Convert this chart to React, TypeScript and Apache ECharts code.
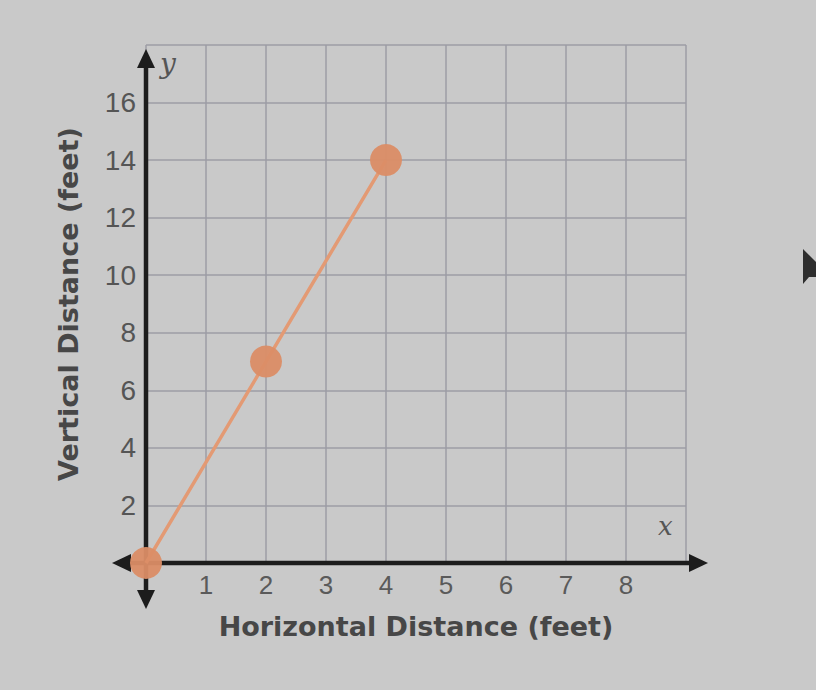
import React, { useEffect, useRef } from 'react';
import * as echarts from 'echarts';

const xValues = [0, 2, 4];
const yValues = [0, 7, 14];
const xRange = [0, 9];
const yRange = [0, 18];
const xLabelRange = [1, 8];
const yLabelRange = [2, 16];
const xTitle = 'Horizontal Distance (feet)';
const yTitle = 'Vertical Distance (feet)';

export default function App() {
  const ref = useRef<HTMLDivElement>(null);
  useEffect(() => {
    const chart = echarts.init(ref.current!, null, { renderer: 'svg' });
    const gridColor = '#9d9da5';
    const font = '"Liberation Sans", Arial, sans-serif';
    const titleFont = '"DejaVu Sans", sans-serif';
    chart.setOption({
      animation: false,
      backgroundColor: '#c9c9c9',
      grid: { left: 146, right: 130, top: 45, bottom: 127 },
      xAxis: {
        type: 'value',
        min: xRange[0],
        max: xRange[1],
        interval: 1,
        axisLine: { show: false },
        axisTick: { show: false },
        splitLine: { show: true, lineStyle: { color: gridColor, width: 1.5 } },
        axisLabel: {
          margin: 9,
          fontSize: 26,
          color: '#5a5a5a',
          fontFamily: font,
          formatter: (v: number) => (v >= xLabelRange[0] && v <= xLabelRange[1] ? String(v) : ''),
        },
        name: xTitle,
        nameLocation: 'middle',
        nameGap: 50,
        nameTextStyle: { fontSize: 27, fontWeight: 'bold', color: '#474747', fontFamily: titleFont },
      },
      yAxis: {
        type: 'value',
        min: yRange[0],
        max: yRange[1],
        interval: 2,
        axisLine: { show: false },
        axisTick: { show: false },
        splitLine: { show: true, lineStyle: { color: gridColor, width: 1.5 } },
        axisLabel: {
          margin: 10,
          fontSize: 28,
          color: '#555555',
          fontFamily: font,
          formatter: (v: number) => (v >= yLabelRange[0] && v <= yLabelRange[1] ? String(v) : ''),
        },
        name: yTitle,
        nameLocation: 'middle',
        nameGap: 64,
        nameTextStyle: { fontSize: 27, fontWeight: 'bold', color: '#474747', fontFamily: titleFont },
      },
      series: [
        {
          type: 'line',
          z: 5,
          data: xValues.map((x, i) => [x, yValues[i]]),
          symbol: 'circle',
          symbolSize: 32,
          lineStyle: { color: '#e39a74', width: 3.5 },
          itemStyle: { color: '#db8d66', opacity: 0.95 },
        },
      ],
    });
    const o = chart.convertToPixel({ gridIndex: 0 }, [xRange[0], yRange[0]]) as number[];
    const tr = chart.convertToPixel({ gridIndex: 0 }, [xRange[1], yRange[1]]) as number[];
    const axisColor = '#1c1c1c';
    const ox = o[0];
    const oy = o[1];
    const xl = ox - 34;
    const xr = tr[0] + 22;
    const yt = tr[1] + 4;
    const yb = oy + 46;
    const al = 19;
    const aw = 9;
    chart.setOption({
      graphic: [
        { type: 'line', z: 1, shape: { x1: xl + al - 2, y1: oy, x2: xr - al + 2, y2: oy }, style: { stroke: axisColor, lineWidth: 4.5 } },
        { type: 'line', z: 1, shape: { x1: ox, y1: yt + al - 2, x2: ox, y2: yb - al + 2 }, style: { stroke: axisColor, lineWidth: 4.5 } },
        { type: 'polygon', z: 1, shape: { points: [[xr, oy], [xr - al, oy - aw], [xr - al, oy + aw]] }, style: { fill: axisColor } },
        { type: 'polygon', z: 1, shape: { points: [[xl, oy], [xl + al, oy - aw], [xl + al, oy + aw]] }, style: { fill: axisColor } },
        { type: 'polygon', z: 1, shape: { points: [[ox, yt], [ox - aw, yt + al], [ox + aw, yt + al]] }, style: { fill: axisColor } },
        { type: 'polygon', z: 1, shape: { points: [[ox, yb], [ox - aw, yb - al], [ox + aw, yb - al]] }, style: { fill: axisColor } },
        { type: 'text', z: 1, x: ox + 14, y: yt, style: { text: 'y', font: 'italic 28px "DejaVu Serif", serif', fill: '#555555' } },
        { type: 'text', z: 1, x: tr[0] - 28, y: oy - 50, style: { text: 'x', font: 'italic 26px "DejaVu Serif", serif', fill: '#555555' } },
        { type: 'polygon', z: 1, shape: { points: [[803, 249], [803, 284], [809, 277], [816, 277], [816, 262]] }, style: { fill: '#2e2e2e' } },
      ],
    });
    return () => chart.dispose();
  }, []);
  return <div ref={ref} style={{ position: 'fixed', left: 0, top: 0, width: 816, height: 690 }} />;
}
